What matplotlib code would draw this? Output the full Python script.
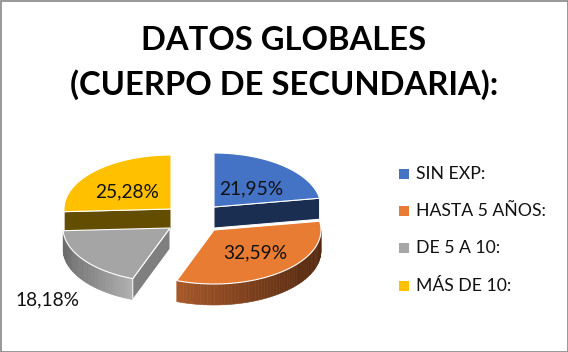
import numpy as np
import matplotlib
matplotlib.use("Agg")
import matplotlib.pyplot as plt
from matplotlib.patches import Polygon, Rectangle

plt.rcParams['font.family'] = ['Lato', 'DejaVu Sans']

# data
categories = ["SIN EXP:", "HASTA 5 AÑOS:", "DE 5 A 10:", "MÁS DE 10:"]
values = [21.95, 32.59, 18.18, 25.28]
value_labels = ["21,95%", "32,59%", "18,18%", "25,28%"]

colors = ["#4472c4", "#e97c33", "#a5a5a5", "#ffc000"]
cut_colors = ["#1a2e52", "#8a4a1e", "#7f7f7f", "#634d00"]
wall_left = ["#1a2e52", "#a8592a", "#6b6b6b", "#634d00"]
wall_right = ["#1a2e52", "#55290f", "#b0b0b0", "#634d00"]

# pie geometry, in pixels
apex = [(214, 207), (214, 230), (170, 228), (171, 209)]
label_pos = [(251, 189), (255, 253), (47, 300), (127, 192)]
rx, ry, depth = 107, 54, 21

fig = plt.figure(figsize=(5.68, 3.52), dpi=100)
ax = fig.add_axes([0, 0, 1, 1])
ax.set_xlim(0, 568)
ax.set_ylim(352, 0)
ax.axis("off")


def rim(center, t):
    # t in degrees clockwise from the top
    r = np.radians(t)
    return center[0] + rx * np.sin(r), center[1] - ry * np.cos(r)


def wall(p1, p2, color, z):
    pts = [p1, p2, (p2[0], p2[1] + depth), (p1[0], p1[1] + depth)]
    ax.add_patch(Polygon(pts, closed=True, fc=color, ec="white", lw=0.7, zorder=z))


edges = np.concatenate([[0], np.cumsum(values)]) / sum(values) * 360
layer = {3: 2.0, 2: 2.1, 0: 2.2, 1: 3.0}

for i in [3, 2, 0, 1]:
    c = apex[i]
    t0, t1 = edges[i], edges[i + 1]
    z = layer[i]

    # outer wall, only on the part of the rim facing the viewer
    a0, a1 = max(t0, 90), min(t1, 270)
    if a0 < a1 and i in (1, 2):
        ts = np.linspace(a0, a1, 60)
        left = np.array(matplotlib.colors.to_rgb(wall_left[i]))
        right = np.array(matplotlib.colors.to_rgb(wall_right[i]))
        xs, ys = rim(c, ts)
        for k in range(len(ts) - 1):
            f = (xs[k] - xs.min()) / (xs.max() - xs.min())
            col = left + (right - left) * f
            pts = [(xs[k], ys[k]), (xs[k + 1], ys[k + 1]),
                   (xs[k + 1], ys[k + 1] + depth), (xs[k], ys[k] + depth)]
            ax.add_patch(Polygon(pts, closed=True, fc=col, ec=col, lw=0.4, zorder=z))

    # cut faces
    if i == 0:
        wall(c, rim(c, t1), cut_colors[i], z + 0.01)
    if i == 2 or i == 3:
        wall(c, rim(c, t0), cut_colors[i], z + 0.01)

    # top face
    ts = np.linspace(t0, t1, 80)
    xs, ys = rim(c, ts)
    pts = [c] + list(zip(xs, ys))
    ax.add_patch(Polygon(pts, closed=True, fc=colors[i], ec="white", lw=0.8, zorder=z + 0.02))

for lab, pos in zip(value_labels, label_pos):
    ax.text(pos[0], pos[1], lab, fontsize=13.8, color="#111111", ha="center", va="center", zorder=5)

# legend
legend_y = [174, 211, 248, 286]
for name, col, y in zip(categories, colors, legend_y):
    ax.add_patch(Rectangle((399, y - 5), 10, 10, fc=col, ec="none", zorder=5))
    ax.text(416, y, name, fontsize=12.7, color="#111111", ha="left", va="center", zorder=5)

ax.text(284, 41, "DATOS GLOBALES", fontsize=23.6, fontweight="bold", color="black", ha="center", va="center")
ax.text(284, 85, "(CUERPO DE SECUNDARIA):", fontsize=23.6, fontweight="bold", color="black", ha="center", va="center")

# grey frame of the chart
ax.add_patch(Rectangle((0.5, 0.5), 567, 351, fc="none", ec="#868686", lw=1.2, zorder=6))

fig.savefig("out.png", dpi=100)
